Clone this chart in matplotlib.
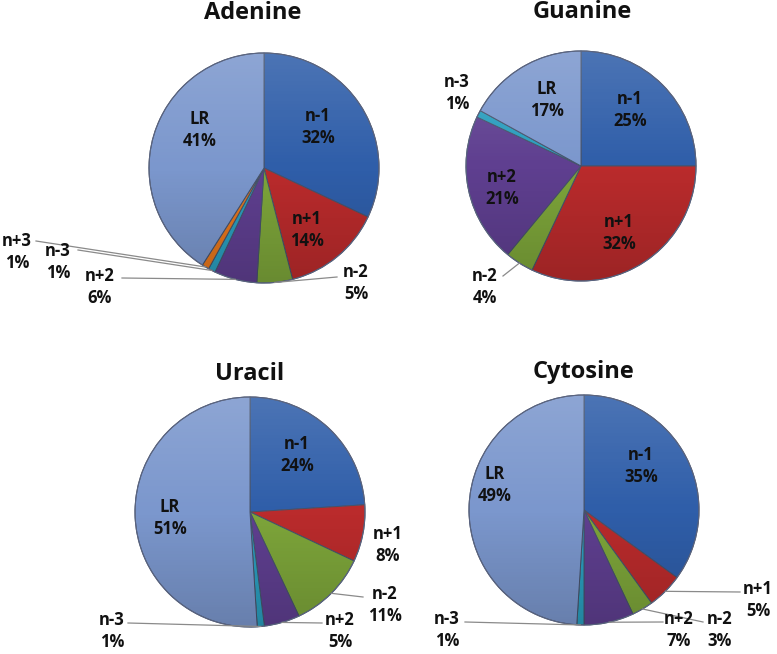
import numpy as np
import matplotlib
matplotlib.use("Agg")
from matplotlib import pyplot as plt
from matplotlib.patches import Circle

W, H = 777, 654

# ---- data ----
titles = ["Adenine", "Guanine", "Uracil", "Cytosine"]

adenine_labels = ["n-1", "n+1", "n-2", "n+2", "n-3", "n+3", "LR"]
adenine_values = [32, 14, 5, 6, 1, 1, 41]

guanine_labels = ["n-1", "n+1", "n-2", "n+2", "n-3", "LR"]
guanine_values = [25, 32, 4, 21, 1, 17]

uracil_labels = ["n-1", "n+1", "n-2", "n+2", "n-3", "LR"]
uracil_values = [24, 8, 11, 5, 1, 51]

cytosine_labels = ["n-1", "n+1", "n-2", "n+2", "n-3", "LR"]
cytosine_values = [35, 5, 3, 7, 1, 49]

colors = {"n-1": "#2F5EA9", "n+1": "#BA2B2C", "n-2": "#7DA53A",
          "n+2": "#5F3F90", "n-3": "#2A9EBE", "n+3": "#E6761C",
          "LR": "#7B97CD"}

# ---- layout (pixels, y downwards) ----
centers = [(264, 168), (581, 166), (250, 512), (584, 510)]
radius = 115
title_pos = [(253, 13), (582, 12), (250, 374), (584, 372)]

# label centre for every slice; outside labels also get a leader line end
label_pos = [
    {"n-1": (318, 127), "n+1": (307, 230), "LR": (200, 130),
     "n-2": (356, 283), "n+2": (100, 287), "n-3": (58, 262), "n+3": (17, 252)},
    {"n-1": (630, 110), "n+1": (619, 233), "n+2": (502, 188), "LR": (547, 100),
     "n-2": (485, 287), "n-3": (457, 93)},
    {"n-1": (297, 455), "LR": (170, 518), "n+1": (388, 545),
     "n-2": (385, 605), "n+2": (340, 631), "n-3": (112, 631)},
    {"n-1": (641, 466), "LR": (495, 485), "n+1": (758, 600),
     "n-2": (720, 630), "n+2": (679, 630), "n-3": (447, 630)},
]
leader_end = [
    {"n-2": (337, 277), "n+2": (122, 278), "n-3": (78, 250), "n+3": (36, 241)},
    {"n-2": (503, 276)},
    {"n-2": (363, 597), "n+2": (322, 623), "n-3": (128, 623)},
    {"n+1": (740, 592), "n-2": (703, 622), "n+2": (663, 622), "n-3": (465, 622)},
]


def P(x, y):
    return x, H - y


plt.rcParams['font.family'] = ['Open Sans', 'DejaVu Sans']

fig = plt.figure(figsize=(W / 100, H / 100), dpi=100)
ax = fig.add_axes([0, 0, 1, 1])

pies = [(adenine_labels, adenine_values), (guanine_labels, guanine_values),
        (uracil_labels, uracil_values), (cytosine_labels, cytosine_values)]

# soft shading like the office 3D pie style
n = 200
yy, xx = np.mgrid[0:n, 0:n] / (n - 1.0)
shade = np.zeros((n, n, 4))
t = yy  # 0 top -> 1 bottom (image origin upper)
shade[..., :3] = np.where(t[..., None] < 0.5, 1.0, 0.0)
shade[..., 3] = np.where(t < 0.5, 0.14 * (0.5 - t) * 2, 0.16 * (t - 0.5) * 2)

for i, (labels, values) in enumerate(pies):
    cx, cy = centers[i]
    wedges, _ = ax.pie(values, colors=[colors[l] for l in labels],
                       startangle=90, counterclock=False,
                       center=P(cx, cy), radius=radius,
                       wedgeprops=dict(edgecolor="#46526A", linewidth=0.7))

    px, py = P(cx, cy)
    clip = Circle((px, py), radius, transform=ax.transData)
    im = ax.imshow(shade, extent=(px - radius, px + radius, py - radius, py + radius),
                   origin="upper", zorder=3, interpolation="bilinear")
    im.set_clip_path(clip)
    ax.add_patch(Circle((px, py), radius, fill=False, edgecolor="#5A6480",
                        linewidth=0.8, zorder=4))

    total = float(sum(values))
    cum = 0.0
    for lab, v in zip(labels, values):
        mid = 90 - (cum + v / 2.0) / total * 360
        cum += v
        tx, ty = label_pos[i][lab]
        pct = "%d%%" % round(v / total * 100)
        ax.text(*P(tx, ty), lab + "\n" + pct, ha="center", va="center",
                fontsize=12, fontweight="bold", linespacing=1.3, color="#111111",
                zorder=6)
        if lab in leader_end[i]:
            ex, ey = leader_end[i][lab]
            rx = cx + radius * np.cos(np.radians(mid))
            ry = cy - radius * np.sin(np.radians(mid))
            ax.plot([P(rx, ry)[0], P(ex, ey)[0]], [P(rx, ry)[1], P(ex, ey)[1]],
                    color="#8A8A8A", linewidth=0.9, zorder=5)

    ax.text(*P(*title_pos[i]), titles[i], ha="center", va="center",
            fontsize=17, fontweight="bold", color="#111111")

ax.set_xlim(0, W)
ax.set_ylim(0, H)
ax.set_aspect("equal")
ax.axis("off")

plt.savefig("out.png", dpi=100)
